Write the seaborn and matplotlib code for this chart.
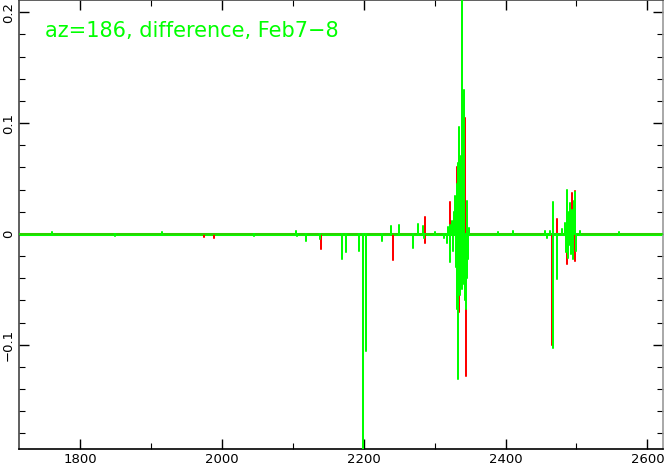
import numpy as np
import pandas as pd
import matplotlib
matplotlib.use("Agg")
import matplotlib.pyplot as plt
from matplotlib.ticker import MultipleLocator
import seaborn as sns

# spike positions (wavenumber) and peak values
green_x = [1760, 1850, 1915, 2045, 2105, 2106, 2118, 2139, 2170, 2175.5, 2194,
           2199.5, 2203.3, 2226, 2238.5, 2250, 2270, 2276, 2284, 2285, 2300,
           2313, 2317, 2319, 2321, 2322, 2324, 2326, 2327, 2328.7, 2329.5, 2330,
           2331.2, 2332, 2333, 2333.5, 2334.5, 2335, 2335.6, 2336, 2337, 2337.6,
           2338, 2339.1, 2339.6, 2340, 2340.5, 2341, 2341.9, 2342.4, 2343,
           2344.3, 2345, 2345.8, 2346.8, 2348, 2390, 2410, 2455, 2458,
           2462, 2466.6, 2466.8, 2472, 2480, 2484, 2485, 2486, 2487.3, 2487.5,
           2489, 2490, 2491, 2492, 2493, 2495, 2496, 2498, 2499, 2505, 2560]
green_y = [0.002, -0.002, 0.002, -0.002, 0.003, -0.002, -0.006, -0.005, -0.0225,
           -0.016, -0.015, -0.21, -0.106, -0.006, 0.007, 0.008, -0.0126, 0.009,
           0.007, -0.004, 0.002, -0.004, -0.008, 0.006, -0.025, 0.008, 0.012,
           -0.015, 0.02, 0.034, -0.02, -0.03, 0.045, -0.068, 0.064, -0.131,
           0.05, 0.096, -0.055, -0.04, 0.06, 0.07, -0.05, 0.215, -0.045,
           -0.035, 0.09, 0.08, 0.130, -0.05, -0.06, -0.068, 0.03, -0.04,
           -0.023, 0.005, 0.002, 0.003, 0.003, -0.004, 0.003, 0.029, -0.103,
           -0.041, 0.004, 0.01, -0.016, 0.035, 0.040, -0.022, -0.01, 0.02,
           0.028, -0.018, 0.022, -0.023, 0.03, 0.038, -0.015, 0.003, 0.002]

red_x = [1975, 1989.5, 2139.4, 2241.8, 2286.5, 2286.8, 2321.7, 2330, 2331, 2332,
         2333.8, 2342.9, 2343.9, 2466.2, 2472.2, 2487, 2493.9, 2497.7, 2498]
red_y = [-0.003, -0.004, -0.0135, -0.0234, 0.015, -0.008, 0.029, -0.014, 0.060,
         0.055, -0.07, 0.105, -0.128, -0.1, 0.0135, -0.027, 0.037, 0.039, -0.024]

x_range = [1714, 2622]
y_range = [-0.194, 0.211]


def spike_trace(xs, ys):
    # each spike drawn as baseline -> peak -> baseline
    px, py = [x_range[0]], [0.0]
    for x, y in sorted(zip(xs, ys)):
        px += [x, x, x]
        py += [0.0, y, 0.0]
    px.append(x_range[1])
    py.append(0.0)
    return pd.DataFrame({"wn": px, "diff": py})


sns.set_theme(style="ticks")
plt.rcParams['font.family'] = ['DejaVu Sans']

fig = plt.figure(figsize=(6.66, 4.69), dpi=100)
ax = fig.add_axes([19 / 666, 20 / 469, 644 / 666, 449 / 469])

green = "#00ff00"
red = "#ff0000"

ax.axhline(0, color=green, lw=2.2, zorder=1)
sns.lineplot(data=spike_trace(red_x, red_y), x="wn", y="diff", sort=False,
             estimator=None, color=red, lw=1.1, ax=ax, zorder=2)
sns.lineplot(data=spike_trace(green_x, green_y), x="wn", y="diff", sort=False,
             estimator=None, color=green, lw=1.1, ax=ax, zorder=3)

ax.set_xlim(x_range)
ax.set_ylim(y_range)
ax.set_xlabel("")
ax.set_ylabel("")

ax.xaxis.set_major_locator(MultipleLocator(200))
ax.xaxis.set_minor_locator(MultipleLocator(100))
ax.yaxis.set_major_locator(MultipleLocator(0.1))
ax.yaxis.set_minor_locator(MultipleLocator(0.02))
ax.set_yticks([-0.1, 0, 0.1, 0.2])
ax.set_yticklabels(["\u22120.1", "0", "0.1", "0.2"], rotation=90, va="center")

ax.tick_params(which="both", direction="in", top=True, right=True,
               labelsize=9.5, colors="black", pad=3)
ax.tick_params(which="major", length=7, width=1)
ax.tick_params(which="minor", length=4, width=0.8)

for side in ["top", "left"]:
    ax.spines[side].set_color("#444444")
ax.spines["right"].set_color("#999999")
ax.spines["bottom"].set_color("black")
for s in ax.spines.values():
    s.set_linewidth(1.2)

ax.text(0.040, 0.931, "az=186, difference, Feb7\u22128", transform=ax.transAxes,
        color=green, fontsize=15, va="center", ha="left")

fig.savefig("out.png", dpi=100)
